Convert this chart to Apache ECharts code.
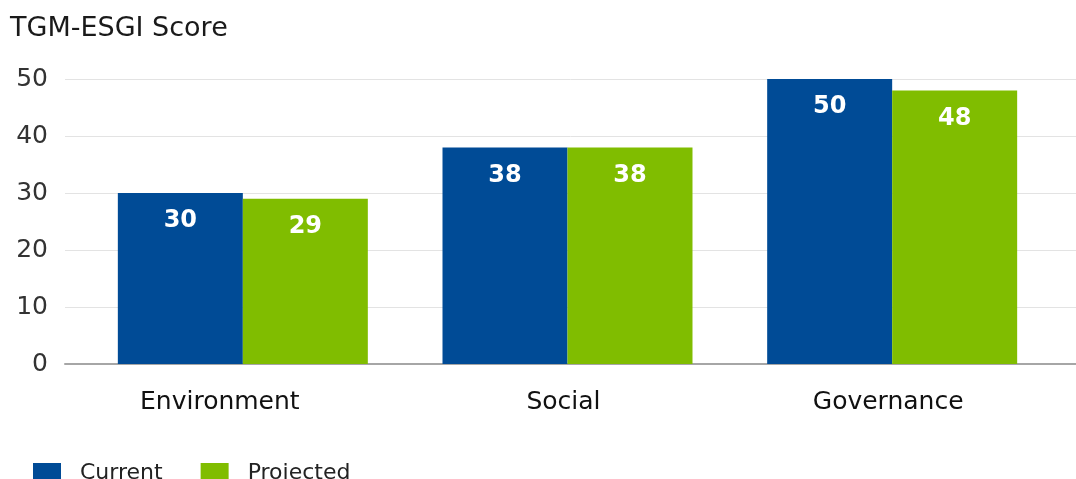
<!DOCTYPE html>
<html>
<head>
<meta charset="utf-8">
<script src="https://cdn.jsdelivr.net/npm/echarts@6/dist/echarts.min.js"></script>
<style>
  html, body { margin: 0; padding: 0; background: #fff; }
  #chart { width: 1076px; height: 479px; }
</style>
</head>
<body>
<div id="chart"></div>
<script>
// TGM-ESGI pillar scores, current vs projected
const categories = ['Environment', 'Social', 'Governance'];
const currentScores = [30, 38, 50];
const projectedScores = [29, 38, 48];
const seriesNames = ['Current', 'Projected'];

const FONT = '"DejaVu Sans", Verdana, sans-serif';
const BLUE = '#004b96';
const GREEN = '#80bd00';

const chart = echarts.init(document.getElementById('chart'), null, { renderer: 'canvas' });

const barLabel = {
  show: true,
  position: 'insideTop',
  distance: 16,
  color: '#ffffff',
  fontFamily: FONT,
  fontSize: 24,
  fontWeight: 'bold'
};

// category label styles: the first label sits a little further left
const catText = { fontFamily: FONT, fontSize: 25, color: '#111' };
const catRich = {
  first: Object.assign({ padding: [0, 46, 0, 0] }, catText),
  other: Object.assign({ padding: [0, 8, 0, 0] }, catText)
};

chart.setOption({
  animation: false,
  backgroundColor: '#ffffff',
  title: {
    text: 'TGM-ESGI Score',
    left: 10,
    top: 15,
    padding: 0,
    textStyle: { fontFamily: FONT, fontSize: 27, fontWeight: 'normal', color: '#1a1a1a' }
  },
  legend: {
    left: 33,
    top: 462,
    padding: 0,
    itemWidth: 28,
    itemHeight: 20,
    itemGap: 38,
    icon: 'rect',
    textStyle: { fontFamily: FONT, fontSize: 22, color: '#222', padding: [0, 0, 0, 14] },
    data: seriesNames
  },
  grid: [
    // full-width grid carrying the value scale and gridlines
    { left: 65, right: 0, top: 79, bottom: 115 },
    // grid holding the bars
    { left: 80.5, right: 21.5, top: 79, bottom: 115 }
  ],
  xAxis: [
    {
      type: 'category',
      gridIndex: 0,
      data: [''],
      axisLine: { show: true, lineStyle: { color: '#a6a6a6', width: 2 } },
      axisTick: { show: false },
      axisLabel: { show: false },
      splitLine: { show: false }
    },
    {
      type: 'category',
      gridIndex: 1,
      data: categories,
      axisLine: { show: false },
      axisTick: { show: false },
      axisLabel: {
        interval: 0,
        hideOverlap: false,
        margin: 26,
        fontFamily: FONT,
        fontSize: 25,
        color: '#111',
        formatter: (value, index) => (index === 0 ? '{first|' : '{other|') + value + '}',
        rich: catRich
      }
    }
  ],
  yAxis: [
    {
      type: 'value',
      gridIndex: 0,
      min: 0,
      max: 50,
      interval: 10,
      axisLine: { show: false },
      axisTick: { show: false },
      axisLabel: { margin: 17, padding: [5, 0, 0, 0], fontFamily: FONT, fontSize: 25, color: '#333' },
      splitLine: { show: true, lineStyle: { color: '#e3e3e3', width: 1 } }
    },
    {
      type: 'value',
      gridIndex: 1,
      min: 0,
      max: 50,
      interval: 10,
      show: false,
      splitLine: { show: false }
    }
  ],
  series: [
    {
      name: seriesNames[0],
      type: 'bar',
      xAxisIndex: 1,
      yAxisIndex: 1,
      data: currentScores,
      barGap: '0%',
      barCategoryGap: '23%',
      itemStyle: { color: BLUE },
      label: barLabel
    },
    {
      name: seriesNames[1],
      type: 'bar',
      xAxisIndex: 1,
      yAxisIndex: 1,
      data: projectedScores,
      barGap: '0%',
      barCategoryGap: '23%',
      itemStyle: { color: GREEN },
      label: barLabel
    }
  ]
});
</script>
</body>
</html>
